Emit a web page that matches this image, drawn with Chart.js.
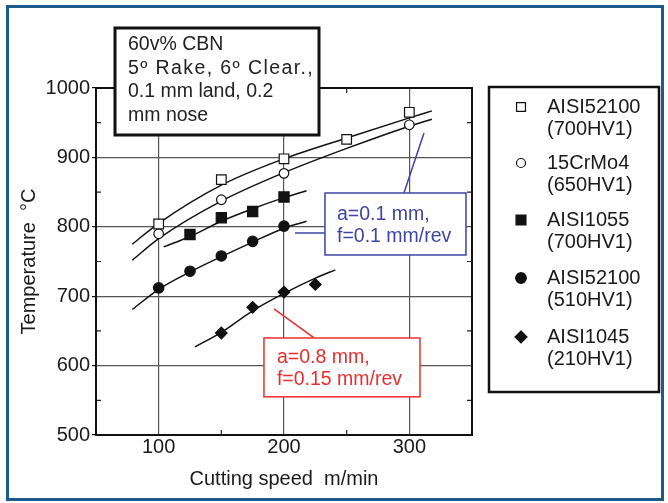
<!DOCTYPE html>
<html>
<head>
<meta charset="utf-8">
<script src="https://cdn.jsdelivr.net/npm/chart.js@4.4.1/dist/chart.umd.min.js"></script>
<style>
  html, body { margin: 0; padding: 0; background: #fff; }
  canvas { display: block; }
</style>
</head>
<body>
<canvas id="tempChart" width="668" height="503"></canvas>
<script>
// measured points (cutting speed m/min, temperature C)
var speedA = [100, 150, 200, 250, 300];           // AISI52100 (700HV1)
var tempA  = [804, 868, 898, 926, 965];
var speedB = [100, 150, 200, 300];                // 15CrMo4 (650HV1)
var tempB  = [790, 839, 877, 947];
var speedC = [125, 150, 175, 200];                // AISI1055 (700HV1)
var tempC  = [789, 813, 822, 843];
var speedD = [100, 125, 150, 175, 200];           // AISI52100 (510HV1)
var tempD  = [712, 736, 758, 779, 801];
var speedE = [150, 175, 200, 225];                // AISI1045 (210HV1)
var tempE  = [647, 684, 706, 717];

// trend curves
var curveAx = [79, 100, 150, 200, 250, 300, 318];
var curveAy = [775, 805, 860, 898, 928, 957, 967];
var curveBx = [79, 100, 150, 200, 250, 300, 318];
var curveBy = [752, 783, 837, 878, 913, 945, 955];
var curveCx = [104, 125, 150, 175, 200, 218];
var curveCy = [771, 786, 808, 826, 842, 852];
var curveDx = [79, 100, 125, 150, 175, 200, 218];
var curveDy = [681, 710, 735, 757, 778, 798, 808];
var curveEx = [129, 150, 175, 200, 225, 241];
var curveEy = [627, 648, 679, 704, 726, 738];

var seriesNames = ["AISI52100", "15CrMo4", "AISI1055", "AISI52100", "AISI1045"];
var seriesHard = ["(700HV1)", "(650HV1)", "(700HV1)", "(510HV1)", "(210HV1)"];
var xTicks = [100, 200, 300];
var yTicks = [500, 600, 700, 800, 900, 1000];

var FONT = "'Liberation Sans', Arial, sans-serif";

function pts(xs, ys) {
  return xs.map(function (x, i) { return {x: x, y: ys[i]}; });
}

function markerSet(xs, ys, style, radius, filled) {
  return {
    data: pts(xs, ys), showLine: false, order: 0,
    pointStyle: style, pointRadius: radius, pointHoverRadius: radius,
    pointBackgroundColor: filled ? '#111' : '#fff',
    pointBorderColor: '#111', pointBorderWidth: 1.2
  };
}

function curveSet(xs, ys) {
  return {
    data: pts(xs, ys), showLine: true, order: 1,
    borderColor: '#111', borderWidth: 1.5, pointRadius: 0,
    tension: 0.4, cubicInterpolationMode: 'monotone', fill: false
  };
}

function isMajor(v, step) { return v % step === 0; }

function drawMarker(ctx, style, x, y, r, filled) {
  ctx.save();
  ctx.beginPath();
  if (style === 'rect') {
    var s = r * Math.SQRT1_2;
    ctx.rect(x - s, y - s, 2 * s, 2 * s);
  } else if (style === 'circle') {
    ctx.arc(x, y, r, 0, Math.PI * 2);
  } else {
    ctx.moveTo(x, y - r); ctx.lineTo(x + r, y); ctx.lineTo(x, y + r); ctx.lineTo(x - r, y);
    ctx.closePath();
  }
  ctx.fillStyle = filled ? '#111' : '#fff';
  ctx.fill();
  ctx.lineWidth = 1.2;
  ctx.strokeStyle = '#111';
  ctx.stroke();
  ctx.restore();
}

var decor = {
  id: 'decor',
  afterDraw: function (chart) {
    var ctx = chart.ctx, a = chart.chartArea;
    var xs = chart.scales.x, ys = chart.scales.y;
    ctx.save();

    // minor inward ticks
    ctx.strokeStyle = '#222';
    ctx.lineWidth = 1.2;
    [150, 250].forEach(function (v) {
      var px = xs.getPixelForValue(v);
      ctx.beginPath();
      ctx.moveTo(px, a.bottom); ctx.lineTo(px, a.bottom - 5);
      ctx.moveTo(px, a.top); ctx.lineTo(px, a.top + 5);
      ctx.stroke();
    });
    [550, 650, 750, 850, 950].forEach(function (v) {
      var py = ys.getPixelForValue(v);
      ctx.beginPath();
      ctx.moveTo(a.left, py); ctx.lineTo(a.left + 5, py);
      ctx.moveTo(a.right, py); ctx.lineTo(a.right - 5, py);
      ctx.stroke();
    });

    // plot frame
    ctx.strokeStyle = '#111';
    ctx.lineWidth = 2;
    ctx.strokeRect(a.left, a.top, a.right - a.left, a.bottom - a.top);

    // tool box
    ctx.fillStyle = '#fff';
    ctx.fillRect(115, 28, 204, 107);
    ctx.lineWidth = 3;
    ctx.strokeRect(115, 28, 204, 107);
    ctx.fillStyle = '#222';
    ctx.font = '19.5px ' + FONT;
    ctx.textBaseline = 'middle';
    ctx.textAlign = 'left';
    ['60v% CBN', '5\u00ba Rake, 6\u00ba Clear.,', '0.1 mm land, 0.2', 'mm nose'].forEach(function (t, i) {
      ctx.letterSpacing = i === 1 ? '1.4px' : '0px';
      ctx.fillText(t, 128, 45 + i * 23.5);
    });
    ctx.letterSpacing = '0px';

    // blue note
    var blue = '#3d44a3';
    var bl = xs.getPixelForValue(232.7), br = xs.getPixelForValue(345.2);
    var bt = ys.getPixelForValue(848.7), bb = ys.getPixelForValue(759.4);
    ctx.strokeStyle = blue;
    ctx.lineWidth = 1.5;
    ctx.beginPath();
    ctx.moveTo(xs.getPixelForValue(295.7), bt);
    ctx.lineTo(xs.getPixelForValue(311.7), ys.getPixelForValue(935));
    ctx.moveTo(xs.getPixelForValue(208.8), ys.getPixelForValue(791));
    ctx.lineTo(bl, ys.getPixelForValue(791));
    ctx.stroke();
    ctx.fillStyle = '#fff';
    ctx.fillRect(bl, bt, br - bl, bb - bt);
    ctx.strokeRect(bl, bt, br - bl, bb - bt);
    ctx.fillStyle = blue;
    ctx.font = '19.5px ' + FONT;
    ctx.fillText('a=0.1 mm,', bl + 12, bt + 22);
    ctx.fillText('f=0.1 mm/rev', bl + 12, bt + 44);

    // red note
    var red = '#ec2d2d';
    var rl = xs.getPixelForValue(184), rr = xs.getPixelForValue(308.5);
    var rt = ys.getPixelForValue(639.8), rb = ys.getPixelForValue(555);
    ctx.strokeStyle = red;
    ctx.beginPath();
    ctx.moveTo(xs.getPixelForValue(192), ys.getPixelForValue(681.6));
    ctx.lineTo(xs.getPixelForValue(224), rt);
    ctx.stroke();
    ctx.fillStyle = '#fff';
    ctx.fillRect(rl, rt, rr - rl, rb - rt);
    ctx.strokeRect(rl, rt, rr - rl, rb - rt);
    ctx.fillStyle = red;
    ctx.fillText('a=0.8 mm,', rl + 13, rt + 20);
    ctx.fillText('f=0.15 mm/rev', rl + 13, rt + 42);

    // legend
    ctx.strokeStyle = '#111';
    ctx.lineWidth = 2.5;
    ctx.strokeRect(489, 87, 170, 305);
    var styles = ['rect', 'circle', 'rect', 'circle', 'rectRot'];
    var fills = [false, false, true, true, true];
    var sizes = [6.3, 4.5, 7, 5.3, 6];
    var rowY = [107, 163, 220, 278, 337];
    ctx.fillStyle = '#1a1a1a';
    ctx.font = '20px ' + FONT;
    seriesNames.forEach(function (n, i) {
      drawMarker(ctx, styles[i], 521, rowY[i], sizes[i], fills[i]);
      ctx.fillStyle = '#1a1a1a';
      ctx.fillText(n, 547, rowY[i]);
      ctx.fillText(seriesHard[i], 547, rowY[i] + 22.5);
    });

    // outer blue frame
    ctx.strokeStyle = '#1d5a8e';
    ctx.lineWidth = 3;
    ctx.strokeRect(7.5, 6.5, 655, 493);
    ctx.restore();
  }
};

var ctx = document.getElementById('tempChart').getContext('2d');
var tempChart = new Chart(ctx, {
  type: 'scatter',
  data: {
    datasets: [
      markerSet(speedA, tempA, 'rect', 6.8, false),
      markerSet(speedB, tempB, 'circle', 4.8, false),
      markerSet(speedC, tempC, 'rect', 7.2, true),
      markerSet(speedD, tempD, 'circle', 5.2, true),
      markerSet(speedE, tempE, 'rectRot', 5.8, true),
      curveSet(curveAx, curveAy),
      curveSet(curveBx, curveBy),
      curveSet(curveCx, curveCy),
      curveSet(curveDx, curveDy),
      curveSet(curveEx, curveEy)
    ]
  },
  options: {
    responsive: false,
    animation: false,
    devicePixelRatio: 1,
    layout: { padding: { top: 88, right: 196, left: 0, bottom: 0 } },
    plugins: { legend: { display: false }, tooltip: { enabled: false } },
    scales: {
      x: {
        type: 'linear', min: 50, max: 350,
        afterBuildTicks: function (s) { s.ticks = [50, 150, 250, 350].concat(xTicks).sort(function (p, q) { return p - q; }).map(function (v) { return {value: v}; }); },
        afterFit: function (s) { s.height = 68; },
        ticks: {
          color: '#1a1a1a', padding: 0, maxRotation: 0, autoSkip: false,
          font: { family: FONT, size: 20 },
          callback: function (v) { return xTicks.indexOf(v) >= 0 ? String(v) : ''; }
        },
        grid: {
          drawTicks: false, lineWidth: 1.2,
          color: function (c) { return c.tick && isMajor(c.tick.value, 100) && c.tick.value !== 50 ? '#555' : 'rgba(0,0,0,0)'; }
        },
        border: { color: '#111', width: 2 },
        title: { display: true, text: 'Cutting speed  m/min', color: '#1a1a1a', font: { family: FONT, size: 20 }, padding: { top: 0, bottom: 12 } }
      },
      y: {
        type: 'linear', min: 500, max: 1000,
        afterBuildTicks: function (s) { s.ticks = [550, 650, 750, 850, 950].concat(yTicks).sort(function (p, q) { return p - q; }).map(function (v) { return {value: v}; }); },
        afterFit: function (s) { s.width = 96; },
        ticks: {
          color: '#1a1a1a', padding: 2, autoSkip: false,
          font: { family: FONT, size: 20 },
          callback: function (v) { return yTicks.indexOf(v) >= 0 ? String(v) : ''; }
        },
        grid: {
          drawTicks: true, tickLength: 4, lineWidth: 1.2,
          color: function (c) { return c.tick && isMajor(c.tick.value, 100) ? '#555' : 'rgba(0,0,0,0)'; },
          tickColor: function (c) { return c.tick && isMajor(c.tick.value, 100) ? '#111' : 'rgba(0,0,0,0)'; }
        },
        border: { color: '#111', width: 2 },
        title: { display: true, text: 'Temperature  \u00b0C', color: '#1a1a1a', font: { family: FONT, size: 20 }, padding: { top: 17, bottom: 0 } }
      }
    }
  },
  plugins: [decor]
});
</script>
</body>
</html>
